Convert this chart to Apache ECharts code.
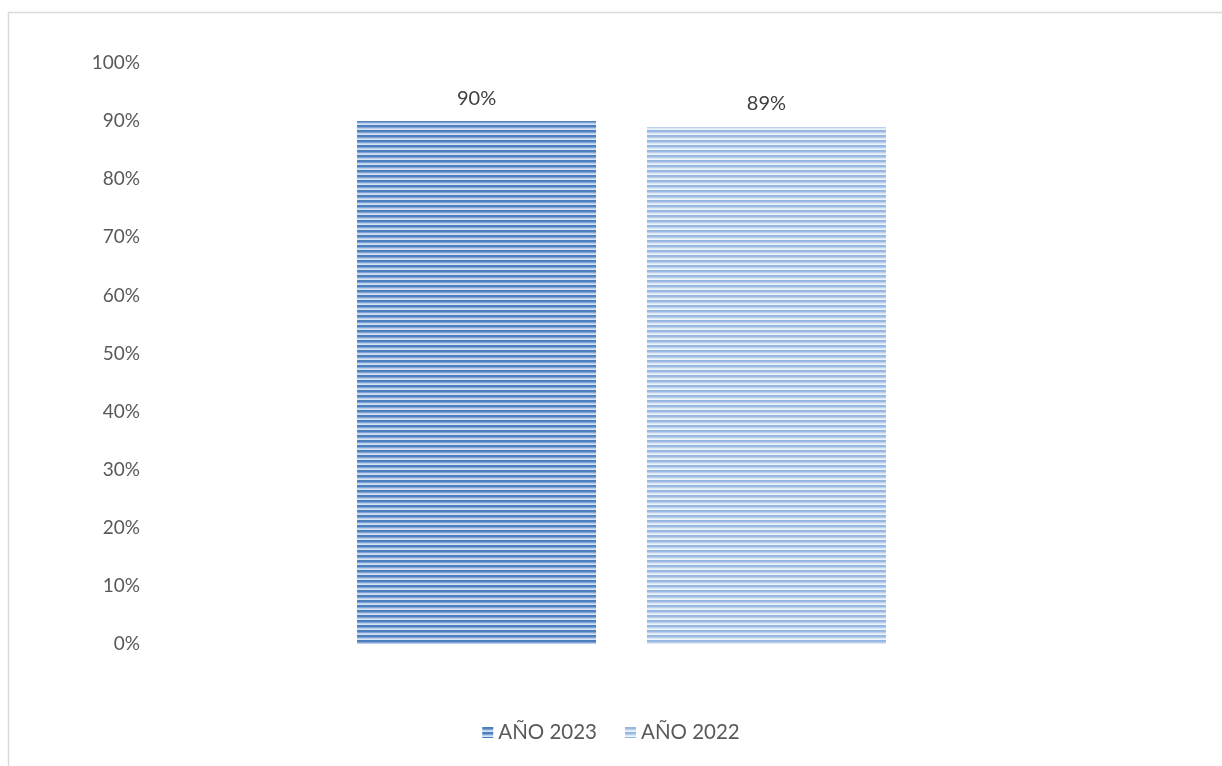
<!DOCTYPE html>
<html><head><meta charset="utf-8">
<script src="https://cdn.jsdelivr.net/npm/echarts@6/dist/echarts.min.js"></script>
<style>html,body{margin:0;padding:0;background:#fff}#c{width:1222px;height:766px}</style>
</head><body><div id="c"></div>
<script>
const categories = [''];
const seriesNames = ['AÑO 2023', 'AÑO 2022'];
const values2023 = [0.90];
const values2022 = [0.89];

function stripes(cols) {
  const cv = document.createElement('canvas');
  cv.width = 4; cv.height = cols.length;
  const ctx = cv.getContext('2d');
  cols.forEach((c, i) => { ctx.fillStyle = c; ctx.fillRect(0, i, 4, 1); });
  return cv;
}
const pat1 = { image: stripes(['#4a7dbd', '#4f81c0', '#7ea3d4', '#b9cfec', '#d6e3f4']), repeat: 'repeat' };
const pat2 = { image: stripes(['#95b6df', '#9ab9e1', '#bcd0ec', '#dbe7f5', '#eef4fb']), repeat: 'repeat' };

const font = 'Lato, "Open Sans", sans-serif';
const chart = echarts.init(document.getElementById('c'));
chart.setOption({
  animation: false,
  textStyle: { fontFamily: font },
  graphic: [{ type: 'rect', shape: { x: 8.5, y: 12.5, width: 1400, height: 1000 },
    style: { fill: 'none', stroke: '#d9d9d9', lineWidth: 1.5 }, silent: true }],
  grid: { left: 150, right: 129, top: 63, bottom: 122 },
  xAxis: { type: 'category', data: categories, axisLine: { show: false }, axisTick: { show: false }, axisLabel: { show: false } },
  yAxis: { type: 'value', min: 0, max: 1, interval: 0.1,
    axisLine: { show: false }, axisTick: { show: false }, splitLine: { show: false },
    axisLabel: { margin: 10, fontSize: 19, color: '#595959', fontFamily: font,
      formatter: v => Math.round(v * 100) + '%' } },
  legend: { bottom: 18, left: 'center', itemWidth: 11, itemHeight: 11, itemGap: 28, icon: 'rect',
    textStyle: { fontSize: 20.5, color: '#595959', fontFamily: font } },
  series: [
    { name: seriesNames[0], type: 'bar', data: values2023, barWidth: 239, barGap: '21.3%',
      itemStyle: { color: pat1 },
      label: { show: true, position: 'top', distance: 13, fontSize: 20, color: '#404040', fontFamily: font,
        formatter: p => Math.round(p.value * 100) + '%' } },
    { name: seriesNames[1], type: 'bar', data: values2022, barWidth: 239,
      itemStyle: { color: pat2 },
      label: { show: true, position: 'top', distance: 13, fontSize: 20, color: '#404040', fontFamily: font,
        formatter: p => Math.round(p.value * 100) + '%' } }
  ]
});
</script></body></html>
